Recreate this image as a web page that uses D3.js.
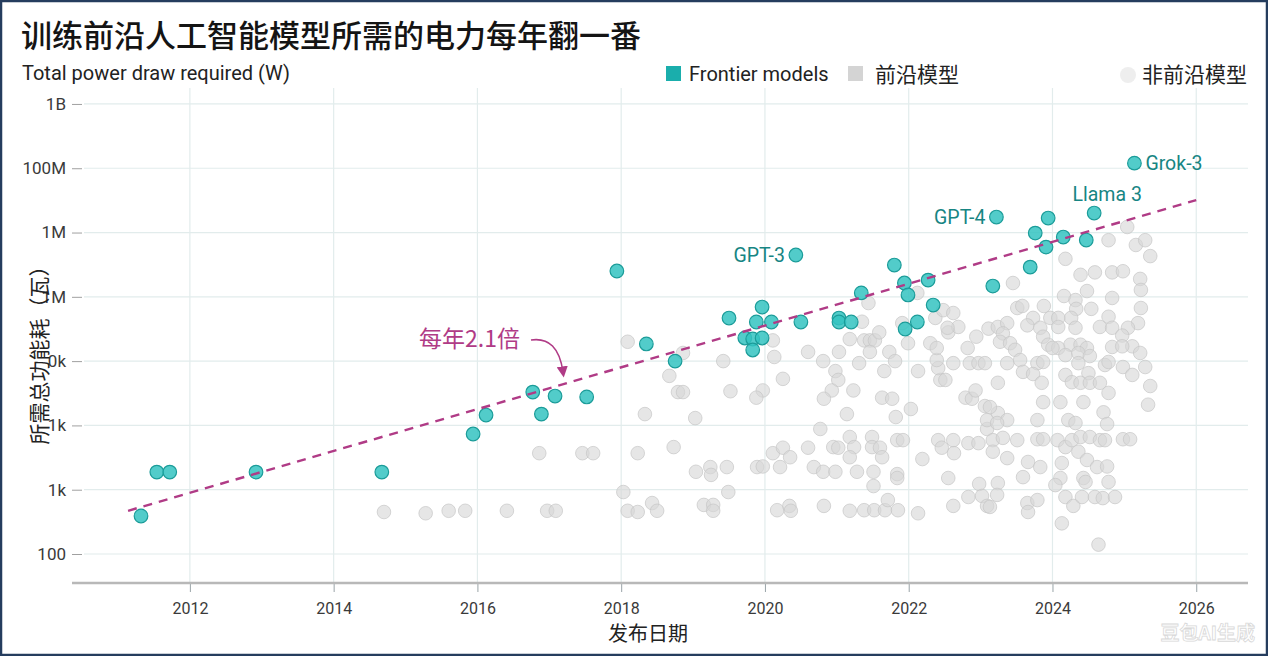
<!DOCTYPE html>
<html>
<head>
<meta charset="utf-8">
<script src="https://cdn.jsdelivr.net/npm/d3@7/dist/d3.min.js"></script>
<style>
  html, body { margin: 0; padding: 0; background: #fff; }
  svg { display: block; font-family: Roboto, "Noto Sans CJK SC", "Noto Sans", sans-serif; }
</style>
</head>
<body>
<svg id="chart" width="1268" height="656"></svg>
<script>
// ---------------- DATA ----------------
const titleText = "训练前沿人工智能模型所需的电力每年翻一番";
const subtitleText = "Total power draw required (W)";
const xAxisTitle = "发布日期";
const yAxisTitle = "所需总功能耗（瓦）";
const legendLabels = ["Frontier models", "前沿模型", "非前沿模型"];
const annotationText = "每年2.1倍";

const xTickValues = [2012, 2014, 2016, 2018, 2020, 2022, 2024, 2026];
const yTickValues = [100, 1e3, 1e4, 1e5, 1e6, 1e7, 1e8, 1e9];
const yTickLabels = ["100", "1k", "1k", "0k", "1M", "1M", "100M", "1B"];

// frontier models: [release year, total power draw (W)]
const frontierModels = [
  [2011.32, 390], [2011.54, 1880], [2011.72, 1880], [2012.92, 1880], [2014.67, 1880],
  [2015.94, 7350], [2016.12, 14500], [2016.77, 33000], [2016.89, 15000], [2017.08, 28600],
  [2017.52, 27700], [2017.94, 2.52e6], [2018.35, 1.85e5], [2018.75, 1.0e5], [2019.50, 4.68e5],
  [2019.96, 6.94e5], [2019.88, 4.06e5], [2020.09, 4.06e5], [2019.72, 2.29e5], [2019.83, 2.21e5],
  [2019.96, 2.29e5], [2019.83, 1.49e5], [2020.50, 4.06e5], [2020.43, 4.47e6], [2021.03, 4.68e5],
  [2021.03, 4.06e5], [2021.20, 4.06e5], [2021.34, 1.15e6], [2021.80, 3.12e6], [2021.94, 1.64e6],
  [2021.99, 1.07e6], [2022.27, 1.82e6], [2022.34, 7.45e5], [2022.12, 4.06e5], [2021.95, 3.16e5],
  [2023.17, 1.47e6], [2023.69, 2.9e6], [2023.76, 9.8e6], [2023.91, 5.94e6], [2023.94, 1.68e7],
  [2024.15, 8.5e6], [2024.47, 7.64e6], [2024.58, 2.01e7], [2023.22, 1.74e7], [2025.14, 1.2e8]
];
const frontierNames = [
  "", "", "", "", "", "", "", "", "", "", "", "", "", "", "",
  "", "", "", "", "", "", "", "", "GPT-3", "", "", "", "", "", "",
  "", "", "", "", "", "", "", "", "", "", "", "", "Llama 3", "GPT-4", "Grok-3"
];

// other models: [release year, total power draw (W)]
const otherModels = [
  [2014.70, 450], [2015.28, 430], [2015.60, 470], [2015.83, 470], [2016.41, 470], [2016.97, 470],
  [2017.09, 470], [2016.86, 3700], [2017.46, 3700], [2017.61, 3700], [2018.09, 2.0e5], [2018.67, 5.9e4],
  [2018.79, 3.3e4], [2018.86, 3.3e4], [2018.33, 1.5e4], [2018.23, 3700], [2018.73, 4600], [2019.03, 1.3e4],
  [2019.42, 1.0e5], [2019.52, 3.4e4], [2018.86, 1.34e5], [2019.04, 1900], [2019.24, 2250], [2019.25, 1700],
  [2019.47, 2250], [2019.49, 920], [2018.03, 920], [2018.09, 470], [2018.23, 450], [2018.43, 620],
  [2018.50, 470], [2019.15, 580], [2019.28, 580], [2019.28, 470],
  [2021.44, 8.0e5], [2021.35, 4.1e5], [2020.11, 2.1e5], [2020.13, 1.16e5], [2020.60, 1.39e5], [2020.81, 1.0e5],
  [2021.03, 1.39e5], [2021.18, 2.2e5], [2021.38, 2.1e5], [2021.46, 2.1e5], [2021.53, 2.1e5], [2021.59, 2.8e5],
  [2021.46, 1.39e5], [2021.31, 9.3e4], [2021.73, 1.39e5], [2021.81, 1.0e5], [2021.99, 1.9e5], [2021.91, 3.9e5],
  [2022.12, 1.15e6], [2021.66, 7.0e4], [2022.13, 7.0e4], [2020.98, 7.0e4], [2021.02, 5.1e4], [2020.25, 5.3e4],
  [2019.97, 3.5e4], [2019.88, 2.7e4], [2020.93, 3.5e4], [2020.82, 2.6e4], [2021.23, 3.5e4], [2021.63, 2.7e4],
  [2021.77, 2.6e4], [2021.14, 1.5e4], [2021.82, 1.35e4], [2022.03, 1.8e4], [2020.77, 8800], [2021.18, 6600],
  [2021.49, 6600], [2021.84, 5900], [2021.92, 5900], [2020.60, 4500], [2020.11, 3700], [2020.25, 4500],
  [2020.35, 3200], [2020.95, 4600], [2021.02, 4500], [2021.24, 4600], [2021.18, 3200], [2021.49, 4600],
  [2021.60, 4500], [2021.63, 3200], [2019.89, 2250], [2019.97, 2300], [2020.21, 2250], [2020.68, 2250],
  [2020.81, 1900], [2020.98, 1900], [2021.28, 1900], [2021.51, 1900], [2021.84, 1750], [2021.84, 1520],
  [2021.51, 1140], [2022.19, 3000], [2022.41, 5900], [2022.46, 4500], [2022.62, 5900], [2022.63, 3700],
  [2022.55, 1520], [2020.17, 480], [2020.34, 560], [2020.36, 470], [2020.82, 560], [2021.18, 470],
  [2021.38, 480], [2021.52, 480], [2021.67, 480], [2021.71, 690], [2021.85, 480], [2022.13, 430],
  [2022.62, 560], [2022.83, 770], [2022.98, 1230], [2023.02, 800], [2023.09, 560], [2022.83, 5300],
  [2022.97, 5300], [2023.09, 8800], [2023.09, 1.21e4], [2023.06, 2.0e4], [2022.79, 2.7e4], [2022.88, 2.6e4],
  [2022.93, 3.5e4], [2022.44, 5.1e4], [2022.51, 5.1e4], [2022.41, 7.8e4], [2022.39, 1.04e5], [2022.62, 9.3e4],
  [2022.85, 9.3e4], [2022.97, 9.3e4], [2023.06, 9.3e4], [2022.30, 1.9e5], [2022.39, 1.6e5], [2022.37, 4.7e5],
  [2022.48, 6.2e5], [2022.62, 5.6e5], [2022.55, 2.8e5], [2022.69, 3.4e5], [2022.54, 3.3e5], [2022.82, 1.6e5],
  [2022.94, 2.4e5], [2023.11, 3.2e5],
  [2024.78, 7.6e6], [2025.04, 1.22e7], [2025.16, 6.4e6], [2025.29, 7.6e6], [2025.36, 4.3e6], [2024.18, 3.9e6],
  [2023.45, 1.64e6], [2024.39, 2.2e6], [2024.59, 2.4e6], [2024.83, 2.4e6], [2024.98, 2.5e6], [2025.22, 1.9e6],
  [2025.23, 1.28e6], [2024.48, 1.23e6], [2024.83, 9.6e5], [2024.16, 1.03e6], [2024.32, 8.9e5], [2023.88, 7.2e5],
  [2023.51, 6.7e5], [2023.58, 7.2e5], [2024.54, 6.5e5], [2024.33, 6.5e5], [2025.23, 6.7e5], [2024.78, 4.9e5],
  [2024.26, 4.7e5], [2023.97, 4.7e5], [2024.08, 4.7e5], [2023.73, 4.7e5], [2025.19, 3.9e5], [2023.65, 3.6e5],
  [2023.24, 3.4e5], [2023.37, 3.9e5], [2023.31, 2.7e5], [2024.66, 3.4e5], [2024.83, 3.3e5], [2025.05, 3.3e5],
  [2024.32, 3.3e5], [2024.08, 3.4e5], [2023.83, 3.3e5], [2024.97, 2.5e5], [2023.87, 2.4e5], [2023.27, 2.0e5],
  [2023.94, 1.8e5], [2023.41, 1.9e5], [2024.25, 1.8e5], [2024.39, 1.8e5], [2024.48, 1.6e5], [2024.83, 1.66e5],
  [2025.11, 1.7e5], [2023.48, 1.5e5], [2024.08, 1.6e5], [2024.00, 1.6e5], [2024.97, 1.7e5], [2025.22, 1.34e5],
  [2024.18, 1.24e5], [2024.36, 1.34e5], [2024.52, 1.2e5], [2023.55, 1.04e5], [2023.37, 9.3e4], [2023.79, 9.3e4],
  [2023.87, 9.7e4], [2024.36, 9.3e4], [2024.73, 8.7e4], [2024.78, 9.7e4], [2024.98, 8.1e4], [2025.29, 8.1e4],
  [2023.59, 6.8e4], [2023.73, 6.3e4], [2024.18, 6.1e4], [2024.50, 6.5e4], [2025.11, 6.1e4], [2023.24, 4.6e4],
  [2023.85, 4.6e4], [2024.27, 4.7e4], [2024.39, 4.6e4], [2024.52, 4.6e4], [2024.66, 4.6e4], [2024.78, 3.2e4],
  [2025.36, 4.1e4], [2025.33, 2.1e4], [2023.87, 2.3e4], [2024.11, 2.3e4], [2024.43, 2.3e4], [2024.71, 1.6e4],
  [2024.76, 1.05e4], [2024.22, 1.21e4], [2024.32, 1.09e4], [2023.79, 1.21e4], [2023.24, 1.56e4], [2023.37, 1.21e4],
  [2023.23, 1.09e4], [2023.17, 5900], [2023.31, 6400], [2023.51, 5900], [2023.79, 6100], [2023.87, 6100],
  [2024.07, 5900], [2024.18, 4600], [2024.27, 5900], [2024.39, 6600], [2024.52, 6600], [2024.66, 5900],
  [2024.73, 5900], [2024.98, 6100], [2025.08, 6100], [2023.17, 3900], [2023.37, 3100], [2023.66, 2700],
  [2023.83, 2250], [2024.13, 2600], [2024.36, 3900], [2024.48, 2900], [2024.62, 2250], [2024.76, 2300],
  [2023.59, 1570], [2023.24, 1270], [2024.11, 1520], [2024.43, 1520], [2024.78, 1320], [2024.04, 1180],
  [2024.46, 1320], [2023.23, 830], [2023.13, 540], [2023.65, 620], [2023.79, 690], [2023.66, 450],
  [2024.18, 770], [2024.29, 560], [2024.41, 770], [2024.59, 770], [2024.70, 740], [2024.87, 770],
  [2024.13, 300], [2024.64, 140], [2023.13, 1.93e4]
];

// fitted trend (2.1x per year): endpoints [year, W]
const trendLine = [[2011.14, 470], [2026.0, 3.2e7]];

// ---------------- CHART ----------------
const svg = d3.select("#chart");
const W = 1268, H = 656;
const plotLeft = 72, plotRight = 1248, plotTop = 88, plotBottom = 583;

const x = d3.scaleLinear().domain([2010.36, 2026.72]).range([plotLeft, plotRight]);
const y = d3.scaleLog().domain([35.4, 1.77e9]).range([plotBottom, plotTop]);

const teal = "#34c3c1", tealStroke = "#1b9c99", tealText = "#178583";
const magenta = "#b03b86";
const cjk = "'Noto Sans CJK SC', sans-serif";

svg.append("rect").attr("width", W).attr("height", H).attr("fill", "#fff");

// title & subtitle
svg.append("text").attr("x", 21).attr("y", 47)
  .attr("font-size", 31).attr("font-weight", 500).attr("fill", "#141414")
  .attr("font-family", cjk).text(titleText);
svg.append("text").attr("x", 22).attr("y", 80)
  .attr("font-size", 20).attr("fill", "#222").text(subtitleText);

// legend
const lg = svg.append("g");
lg.append("rect").attr("x", 666).attr("y", 66).attr("width", 15).attr("height", 15).attr("fill", "#1aaeac");
lg.append("text").attr("x", 689).attr("y", 81).attr("font-size", 20).attr("fill", "#222").text(legendLabels[0]);
lg.append("rect").attr("x", 848).attr("y", 66).attr("width", 15).attr("height", 15).attr("fill", "#d4d4d4");
lg.append("text").attr("x", 875).attr("y", 82).attr("font-size", 21).attr("fill", "#222")
  .attr("font-family", cjk).text(legendLabels[1]);
lg.append("circle").attr("cx", 1128).attr("cy", 75).attr("r", 8).attr("fill", "#eeeeee");
lg.append("text").attr("x", 1142).attr("y", 82).attr("font-size", 21).attr("fill", "#222")
  .attr("font-family", cjk).text(legendLabels[2]);

// grid
const grid = svg.append("g");
grid.selectAll("line.h").data(yTickValues).join("line")
  .attr("x1", plotLeft + 12).attr("x2", plotRight)
  .attr("y1", d => y(d)).attr("y2", d => y(d))
  .attr("stroke", "#e2ecec").attr("stroke-width", 1.2);
grid.selectAll("line.v").data(xTickValues).join("line")
  .attr("x1", d => x(d)).attr("x2", d => x(d))
  .attr("y1", plotTop).attr("y2", plotBottom)
  .attr("stroke", "#e2ecec").attr("stroke-width", 1.2);

// axes
const xAxis = svg.append("g").attr("transform", `translate(0,${plotBottom})`)
  .call(d3.axisBottom(x).tickValues(xTickValues).tickFormat(d3.format("d")).tickSize(9).tickPadding(11));
xAxis.select(".domain").remove();
xAxis.selectAll(".tick line").attr("stroke", "#9aa4a8");
xAxis.selectAll(".tick text").attr("font-size", 16).attr("fill", "#3a3a3a")
  .attr("font-family", "Roboto, sans-serif");
svg.append("line").attr("x1", plotLeft).attr("x2", plotRight)
  .attr("y1", plotBottom).attr("y2", plotBottom)
  .attr("stroke", "#b8b8b8").attr("stroke-width", 2.5);

const yAxis = svg.append("g").attr("transform", `translate(${plotLeft + 10},0)`)
  .call(d3.axisLeft(y).tickValues(yTickValues).tickFormat((d, i) => yTickLabels[i]).tickSize(10).tickPadding(6));
yAxis.select(".domain").remove();
yAxis.selectAll(".tick line").attr("stroke", "#a0a0a0");
yAxis.selectAll(".tick text").attr("font-size", 17).attr("fill", "#3a3a3a")
  .attr("font-family", "Roboto, sans-serif");

// axis titles
svg.append("text").attr("x", 648).attr("y", 641).attr("text-anchor", "middle")
  .attr("font-size", 20).attr("fill", "#222")
  .attr("font-family", cjk).text(xAxisTitle);
svg.append("text").attr("transform", "translate(47,350) rotate(-90)").attr("text-anchor", "middle")
  .attr("font-size", 21).attr("fill", "#222")
  .attr("font-family", cjk).text(yAxisTitle);

// other models
svg.append("g").selectAll("circle").data(otherModels).join("circle")
  .attr("cx", d => x(d[0])).attr("cy", d => y(d[1])).attr("r", 6.8)
  .attr("fill", "#d6d6d6").attr("fill-opacity", 0.62)
  .attr("stroke", "#c6c6c6").attr("stroke-opacity", 0.7).attr("stroke-width", 1);

// frontier models
svg.append("g").selectAll("circle").data(frontierModels).join("circle")
  .attr("cx", d => x(d[0])).attr("cy", d => y(d[1])).attr("r", 6.8)
  .attr("fill", teal).attr("fill-opacity", 0.85)
  .attr("stroke", tealStroke).attr("stroke-width", 1.2);

// trend line
svg.append("path").datum(trendLine)
  .attr("d", d3.line().x(d => x(d[0])).y(d => y(d[1])))
  .attr("fill", "none").attr("stroke", magenta).attr("stroke-width", 2.4)
  .attr("stroke-dasharray", "9,7");

// model labels
const labelGroup = svg.append("g").attr("font-size", 19.5).attr("fill", tealText);
frontierModels.forEach((d, i) => {
  const name = frontierNames[i];
  if (!name) return;
  const cx = x(d[0]), cy = y(d[1]);
  const t = labelGroup.append("text").text(name);
  if (name === "Grok-3") t.attr("x", cx + 11).attr("y", cy + 7).attr("text-anchor", "start");
  else if (name === "Llama 3") t.attr("x", cx + 13).attr("y", cy - 12).attr("text-anchor", "middle");
  else t.attr("x", cx - 11).attr("y", cy + 7).attr("text-anchor", "end");
});

// annotation
svg.append("defs").append("marker").attr("id", "arr")
  .attr("viewBox", "0 0 10 10").attr("refX", 5).attr("refY", 5)
  .attr("markerWidth", 7).attr("markerHeight", 7).attr("orient", "auto-start-reverse")
  .append("path").attr("d", "M0,0 L10,5 L0,10 Z").attr("fill", magenta);
svg.append("text").attr("x", 419).attr("y", 347).attr("font-size", 23).attr("fill", magenta)
  .attr("font-family", cjk).text(annotationText);
svg.append("path").attr("d", "M531,340 Q558,336 563,372")
  .attr("fill", "none").attr("stroke", magenta).attr("stroke-width", 1.6)
  .attr("marker-end", "url(#arr)");

// watermark
svg.append("text").attr("x", 1255).attr("y", 640).attr("text-anchor", "end")
  .attr("font-size", 19).attr("font-weight", 700).attr("fill", "#ffffff")
  .attr("stroke", "#d8d8d8").attr("stroke-width", 0.8)
  .attr("font-family", cjk).text("豆包AI生成");

// frame
svg.append("rect").attr("x", 1).attr("y", 1).attr("width", W - 2).attr("height", H - 2)
  .attr("fill", "none").attr("stroke", "#253d5e").attr("stroke-width", 2.5);
</script>
</body>
</html>
